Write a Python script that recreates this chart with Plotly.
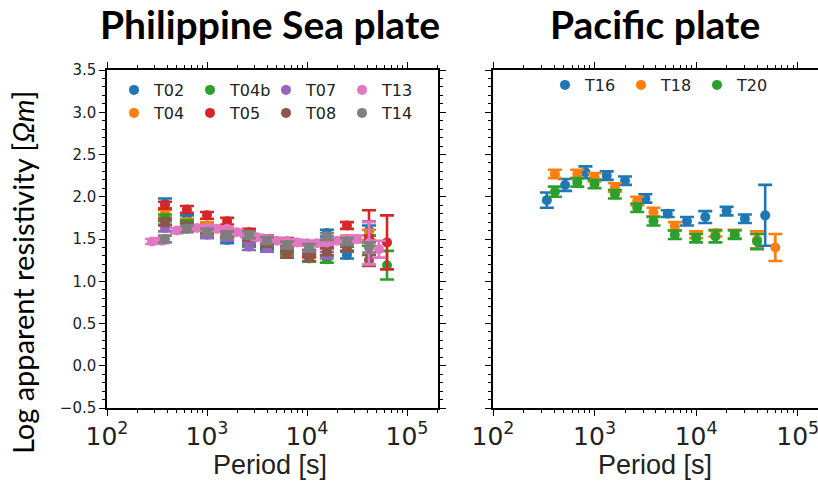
import plotly.graph_objects as go

W, H = 818, 483

# ---------------- data ----------------
# Philippine Sea plate stations (periods in s, log10 apparent resistivity)
ps_periods = [380, 630, 1000, 1590, 2630, 3980, 6310, 10500, 15800, 25100, 41700, 63100]

T02_rho = [1.92, 1.74, 1.63, 1.49, 1.47, 1.42, 1.35, 1.41, 1.57, 1.31, 1.60, None]
T02_err = [0.06, 0.04, 0.04, 0.04, 0.04, 0.04, 0.04, 0.04, 0.04, 0.04, 0.06, None]
T04_rho = [1.80, 1.70, 1.66, 1.58, 1.50, 1.45, 1.36, 1.32, 1.43, 1.50, 1.55, None]
T04_err = [0.04, 0.04, 0.04, 0.04, 0.04, 0.04, 0.04, 0.04, 0.04, 0.04, 0.06, None]
T04b_rho = [1.75, 1.68, 1.62, 1.55, 1.45, 1.40, 1.37, 1.27, 1.26, 1.45, 1.48, 1.19]
T04b_err = [0.04, 0.04, 0.04, 0.04, 0.04, 0.04, 0.04, 0.04, 0.04, 0.04, 0.06, 0.17]
T05_rho = [1.90, 1.85, 1.78, 1.71, 1.58, 1.50, 1.47, 1.33, 1.45, 1.66, 1.51, 1.46]
T05_err = [0.04, 0.04, 0.04, 0.04, 0.04, 0.04, 0.04, 0.04, 0.04, 0.04, 0.33, 0.32]
T07_rho = [1.63, 1.63, 1.55, 1.52, 1.41, 1.39, 1.40, 1.38, 1.31, 1.40, 1.45, None]
T07_err = [0.04, 0.04, 0.04, 0.04, 0.04, 0.04, 0.04, 0.04, 0.04, 0.04, 0.26, None]
T08_rho = [1.70, 1.65, 1.60, 1.56, 1.52, 1.45, 1.32, 1.28, 1.35, 1.40, 1.25, None]
T08_err = [0.04, 0.04, 0.04, 0.04, 0.04, 0.04, 0.04, 0.04, 0.04, 0.04, 0.06, None]
T14_rho = [1.50, 1.62, 1.58, 1.55, 1.55, 1.48, 1.43, 1.40, 1.53, 1.47, 1.40, None]
T14_err = [0.04, 0.04, 0.04, 0.04, 0.04, 0.04, 0.04, 0.04, 0.04, 0.04, 0.06, None]

T13_periods = [282, 355, 501, 631, 794, 1000, 1259, 1585, 1995, 2512, 3162, 3981,
               5012, 6310, 7943, 10000, 12589, 15849, 19953, 25119, 31623, 41687, 52481]
T13_rho = [1.47, 1.48, 1.60, 1.62, 1.63, 1.63, 1.62, 1.62, 1.58, 1.55, 1.52, 1.50,
           1.48, 1.47, 1.46, 1.45, 1.45, 1.46, 1.48, 1.50, 1.50, 1.45, 1.38]
T13_err = [0.03, 0.03, 0.03, 0.03, 0.03, 0.03, 0.03, 0.03, 0.03, 0.03, 0.03, 0.03,
           0.03, 0.03, 0.03, 0.03, 0.03, 0.03, 0.03, 0.03, 0.04, 0.25, 0.10]

# Pacific plate stations
T16_periods = [339, 513, 813, 1318, 1995, 3162, 5248, 8128, 12303, 19953, 30200, 47863]
T16_rho = [1.96, 2.14, 2.29, 2.25, 2.19, 1.98, 1.80, 1.71, 1.76, 1.83, 1.74, 1.78]
T16_err = [0.09, 0.07, 0.07, 0.05, 0.05, 0.05, 0.04, 0.05, 0.07, 0.05, 0.05, 0.36]

T18_periods = [407, 676, 1000, 1585, 2630, 3802, 6166, 10000, 15488, 23988, 39811, 60256]
T18_rho = [2.27, 2.27, 2.23, 2.11, 1.95, 1.82, 1.65, 1.55, 1.57, 1.56, 1.49, 1.40]
T18_err = [0.05, 0.05, 0.05, 0.05, 0.05, 0.05, 0.05, 0.04, 0.04, 0.05, 0.10, 0.16]

T20_periods = [407, 676, 1000, 1585, 2630, 3802, 6166, 10000, 15488, 23988, 39811]
T20_rho = [2.06, 2.17, 2.15, 2.03, 1.87, 1.71, 1.55, 1.51, 1.53, 1.55, 1.47]
T20_err = [0.06, 0.05, 0.05, 0.05, 0.05, 0.05, 0.05, 0.05, 0.07, 0.05, 0.09]

y_ticks = [-0.5, 0.0, 0.5, 1.0, 1.5, 2.0, 2.5, 3.0, 3.5]

C = {"blue": "#1f77b4", "orange": "#ff7f0e", "green": "#2ca02c", "red": "#d62728",
     "purple": "#9467bd", "brown": "#8c564b", "pink": "#e377c2", "gray": "#7f7f7f"}

left_series = [
    ("T02", ps_periods, T02_rho, T02_err, C["blue"], "legend", 1),
    ("T04", ps_periods, T04_rho, T04_err, C["orange"], "legend3", 1),
    ("T04b", ps_periods, T04b_rho, T04b_err, C["green"], "legend", 2),
    ("T05", ps_periods, T05_rho, T05_err, C["red"], "legend3", 2),
    ("T07", ps_periods, T07_rho, T07_err, C["purple"], "legend", 3),
    ("T08", ps_periods, T08_rho, T08_err, C["brown"], "legend3", 3),
    ("T13", T13_periods, T13_rho, T13_err, C["pink"], "legend", 4),
    ("T14", ps_periods, T14_rho, T14_err, C["gray"], "legend3", 4),
]
right_series = [
    ("T16", T16_periods, T16_rho, T16_err, C["blue"], "legend2", 1),
    ("T18", T18_periods, T18_rho, T18_err, C["orange"], "legend2", 2),
    ("T20", T20_periods, T20_rho, T20_err, C["green"], "legend2", 3),
]

fig = go.Figure()


def add(series, xa, ya):
    for name, per, rho, err, col, leg, rank in series:
        fig.add_trace(go.Scatter(
            x=per, y=rho, mode="markers", name=name,
            marker=dict(size=10, color=col),
            error_y=dict(type="data", array=err, visible=True, color=col,
                         thickness=2.6, width=7),
            xaxis=xa, yaxis=ya, legend=leg, legendrank=rank,
        ))


add(left_series, "x", "y")
add(right_series, "x2", "y2")

tick_font = dict(family="DejaVu Sans", size=15, color="#222")
x_tick_font = dict(family="DejaVu Sans", size=20, color="#222")

ydom = [(H - 408) / H, (H - 70) / H]

common_x = dict(type="log", range=[2, 5.31], dtick=1, exponentformat="power",
                showline=True, linecolor="black", linewidth=1.5,
                ticks="outside", ticklen=6, tickwidth=1.2, tickcolor="black",
                minor=dict(ticks="outside", ticklen=3, tickcolor="black", dtick="D1"),
                showgrid=False, zeroline=False, tickfont=x_tick_font, mirror="ticks",
                automargin=False, ticklabeloverflow="allow")
common_y = dict(range=[-0.5, 3.5], tickvals=y_ticks, domain=ydom,
                showline=True, linecolor="black", linewidth=1.5,
                ticks="outside", ticklen=6, tickwidth=1.2, tickcolor="black",
                minor=dict(ticks="outside", ticklen=3, tickcolor="black", dtick=0.1),
                showgrid=False, zeroline=False, tickfont=tick_font, automargin=False)

fig.update_layout(
    template="none",
    width=W, height=H, margin=dict(l=0, r=0, t=0, b=0, autoexpand=False),
    paper_bgcolor="white", plot_bgcolor="white", showlegend=True,
    xaxis=dict(common_x, domain=[107 / W, 438 / W], anchor="y"),
    yaxis=dict(common_y, anchor="x", mirror="ticks", tickformat=".1f"),
    xaxis2=dict(common_x, domain=[493 / W, 1.0], anchor="y2", range=[2, 5.2]),
    yaxis2=dict(common_y, anchor="x2", showticklabels=False, mirror=False),
)

leg_common = dict(orientation="h", font=dict(family="DejaVu Sans", size=16, color="#222"),
                  bgcolor="rgba(0,0,0,0)", entrywidth=31, entrywidthmode="pixels",
                  xanchor="left", yanchor="middle", itemclick=False, borderwidth=0)
fig.update_layout(
    legend=dict(leg_common, x=114 / W, y=1 - 90 / H),
    legend3=dict(leg_common, x=114 / W, y=1 - 113 / H),
    legend2=dict(leg_common, x=545 / W, y=1 - 85 / H, entrywidth=31),
)

title_font = dict(family="Lato", size=39, color="black", weight="bold")
fig.add_annotation(text="Philippine Sea plate", x=270 / W, y=1 - 24 / H, xref="paper", yref="paper",
                   showarrow=False, font=title_font, xanchor="center", yanchor="middle")
fig.add_annotation(text="Pacific plate", x=655 / W, y=1 - 24 / H, xref="paper", yref="paper",
                   showarrow=False, font=title_font, xanchor="center", yanchor="middle")
fig.add_annotation(text="Log apparent resistivity [<i>Ωm</i>]", x=22 / W, y=1 - 273 / H,
                   xref="paper", yref="paper", showarrow=False, textangle=-90,
                   font=dict(family="Lato", size=29, color="black"),
                   xanchor="center", yanchor="middle")
for cx in (270, 655):
    fig.add_annotation(text="Period [s]", x=cx / W, y=1 - 465 / H, xref="paper", yref="paper",
                       showarrow=False, font=dict(family="Liberation Sans", size=27, color="#222"),
                       xanchor="center", yanchor="middle")

fig.write_html("out.html")
